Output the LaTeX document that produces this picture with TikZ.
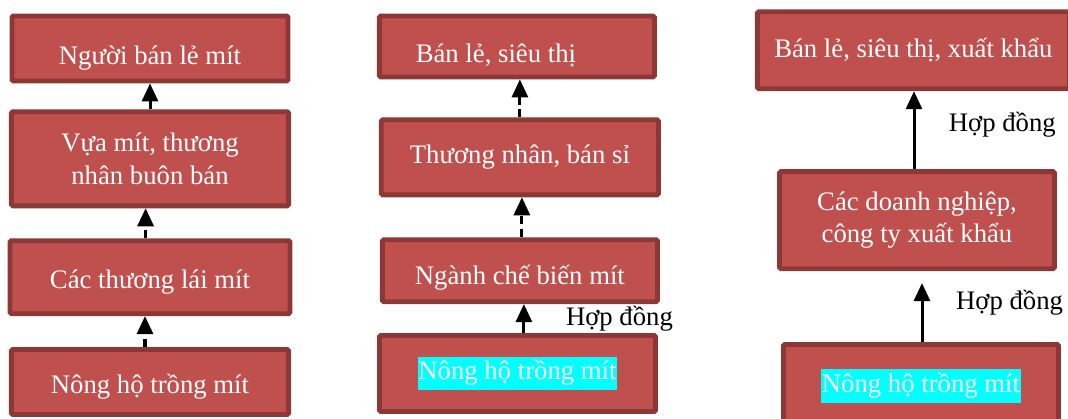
\documentclass[tikz,border=0pt]{standalone}
\usepackage{fontspec}
\setmainfont{Liberation Serif}
\usepackage{tikz}
\usetikzlibrary{positioning, arrows.meta}
\definecolor{boxred}{HTML}{C0504D}
\definecolor{boxedge}{HTML}{8C3836}
\definecolor{mark}{RGB}{0,255,255}
\setlength{\fboxsep}{0.5pt}

\begin{document}
\begin{tikzpicture}[
  x=0.025cm, y=-0.025cm,
  box/.style={rectangle, rounded corners=1pt, draw=boxedge, fill=boxred, line width=0.12cm,
              text=white, align=center, inner sep=2pt, font=\fontsize{19}{23}\selectfont},
  sink/.style={text height=#1, text depth=4.75pt},
  dasharrow/.style={-{Triangle[length=0.45cm, width=0.4cm]}, line width=0.075cm,
              dash pattern=on 0.2cm off 0.12cm},
  fullarrow/.style={-{Triangle[length=0.45cm, width=0.4cm]}, line width=0.075cm},
  deal/.style={inner sep=1pt, font=\fontsize{19}{23}\selectfont}
]
\useasboundingbox (0,0) rectangle (1068,419);
\clip (0,0) rectangle (1068,419);

% Column 1
\node[box, sink=21.6pt, minimum width=6.93cm, minimum height=1.625cm] (a4) at (150,382) {Nông hộ trồng mít};
\node[box, sink=20.2pt, minimum width=7.0cm, minimum height=1.825cm, above=0.775cm of a4] (a3) {Các thương lái mít};
\node[box, minimum width=6.93cm, minimum height=2.35cm, above=0.75cm of a3] (a2) {Vựa mít, thương\\nhân buôn bán};
\node[box, sink=27.3pt, minimum width=6.9cm, minimum height=1.625cm, above=0.65cm of a2] (a1) {Người bán lẻ mít};

% Column 2
\node[box, minimum width=6.9cm, minimum height=1.9cm] (b4) at (517.5,373.5) {\colorbox{mark}{\strut Nông hộ trồng mít}};
\node[box, sink=24.5pt, minimum width=6.875cm, minimum height=1.55cm, above=0.725cm of b4, xshift=0.06cm] (b3) {Ngành chế biến mít};
\node[box, minimum width=6.93cm, minimum height=1.875cm, above=1.0cm of b3] (b2) {Thương nhân, bán sỉ};
\node[box, sink=28pt, minimum width=6.875cm, minimum height=1.525cm, above=0.95cm of b2, xshift=-0.075cm] (b1) {Bán lẻ, siêu thị\hspace*{1.05cm}};

% Column 3
\node[box, minimum width=6.875cm, minimum height=2.075cm] (c3) at (921,386) {\colorbox{mark}{\strut Nông hộ trồng mít}};
\node[box, minimum width=6.875cm, minimum height=2.425cm, above=1.775cm of c3, xshift=-0.1cm] (c2) {Các doanh nghiệp,\\công ty xuất khẩu};
\node[box, minimum width=7.8cm, minimum height=1.925cm, above=1.95cm of c2, xshift=-0.09cm] (c1) {Bán lẻ, siêu thị, xuất khẩu};

% Arrows
\draw[dasharrow] ([xshift=-0.125cm]a4.north) -- ([xshift=-0.125cm]a4.north |- a3.south);
\draw[dasharrow] ([xshift=-0.11cm]a3.north) -- ([xshift=-0.11cm]a3.north |- a2.south);
\draw[dasharrow] (a2.north) -- (a2.north |- a1.south);

\draw[fullarrow] ([xshift=0.16cm]b4.north) -- ([xshift=0.16cm]b4.north |- b3.south)
  node[deal, midway, right=0.98cm] {Hợp đồng};
\draw[dasharrow] ([xshift=0.05cm]b3.north) -- ([xshift=0.05cm]b3.north |- b2.south);
\draw[dasharrow] (b2.north) -- (b2.north |- b1.south);

\draw[fullarrow, shorten >=0.3cm] ([xshift=0.025cm]c3.north) -- ([xshift=0.025cm]c3.north |- c2.south)
  node[deal, pos=0.56, right=0.78cm] {Hợp đồng};
\draw[fullarrow] ([xshift=-0.075cm]c2.north) -- ([xshift=-0.075cm]c2.north |- c1.south)
  node[deal, pos=0.57, right=0.8cm] {Hợp đồng};

\end{tikzpicture}
\end{document}
